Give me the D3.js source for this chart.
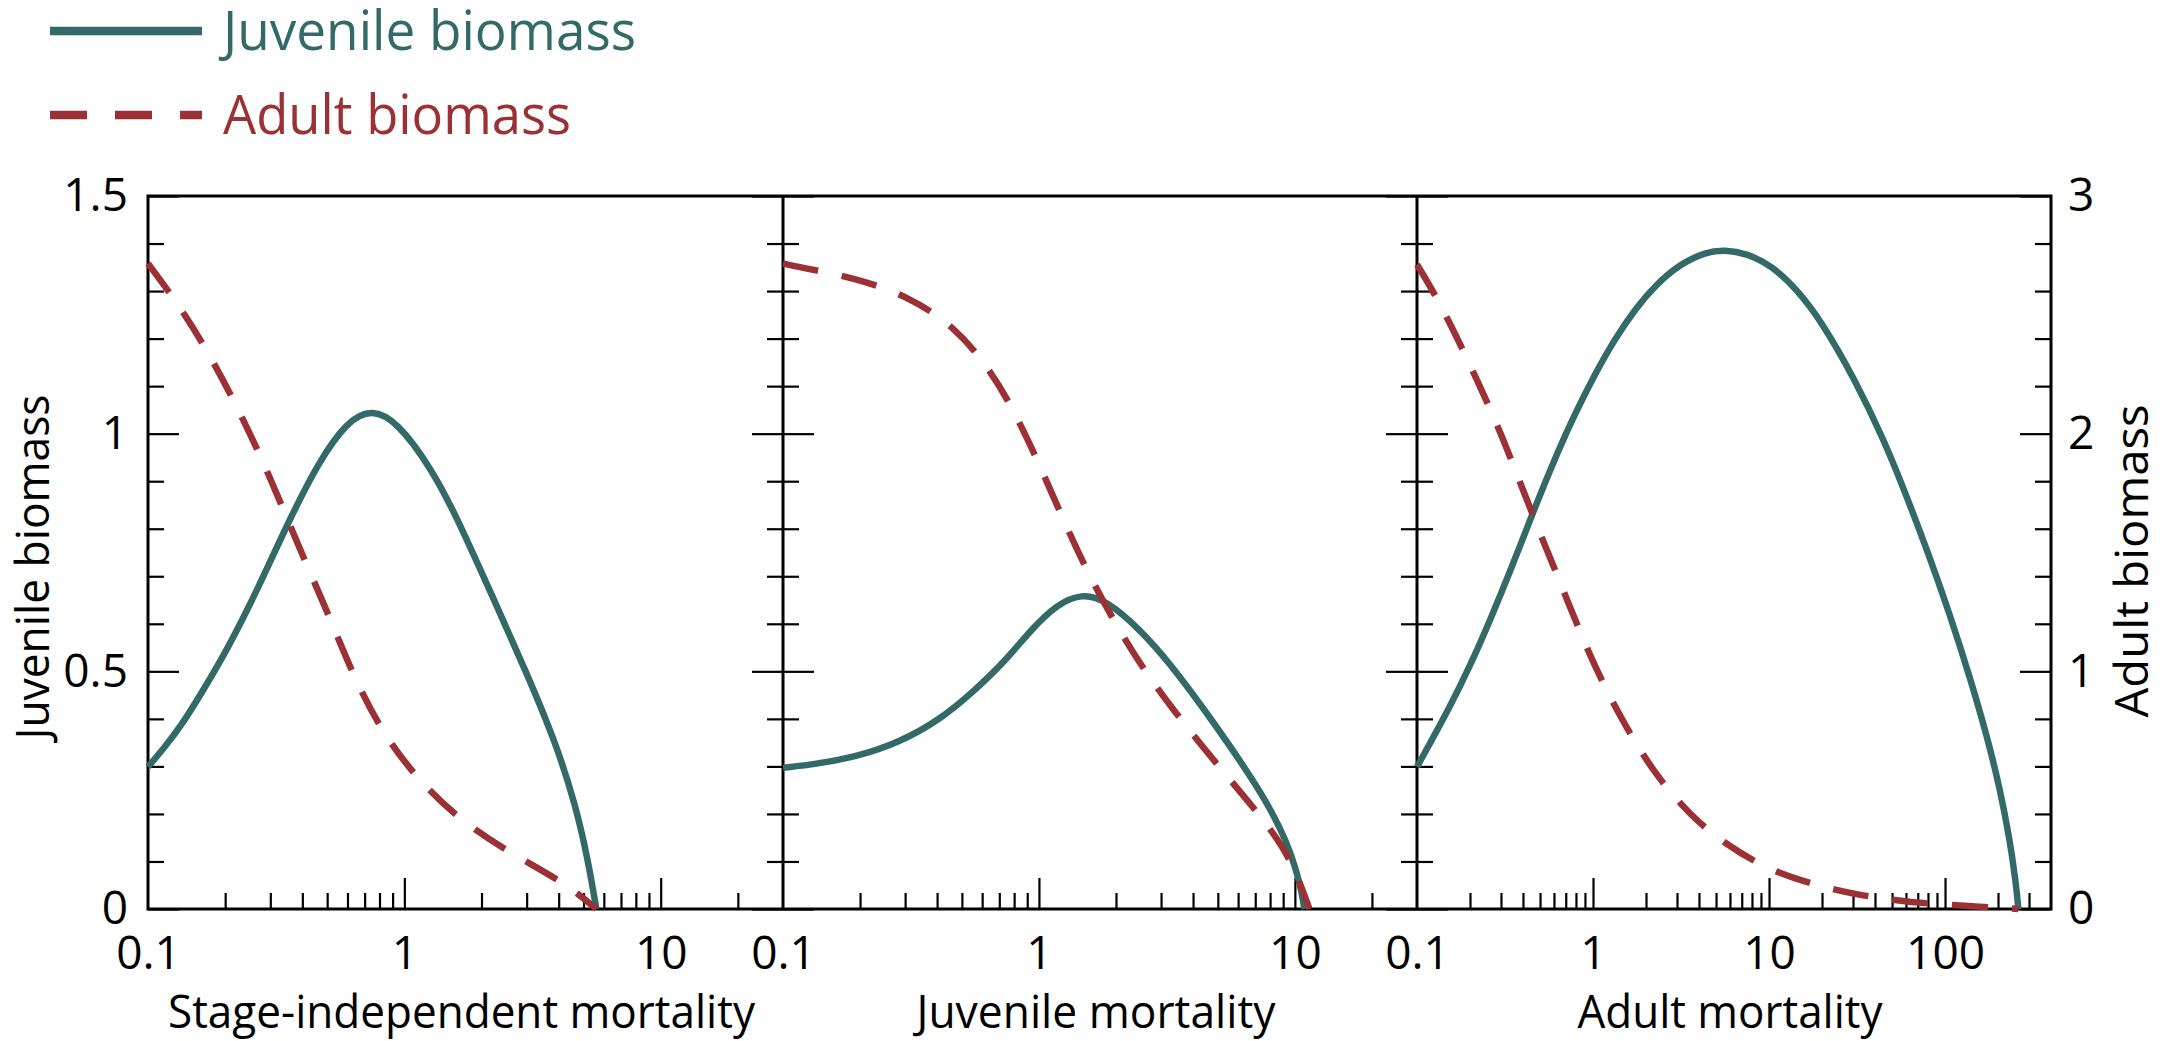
<!DOCTYPE html>
<html>
<head>
<meta charset="utf-8" />
<title>Juvenile and adult biomass vs mortality</title>
<script src="https://d3js.org/d3.v7.min.js"></script>
<style>
  body { margin: 0; background: #fff; }
  svg text { font-family: "Open Sans", sans-serif; }
</style>
</head>
<body>
<svg width="2178" height="1041"></svg>
<script>
// values: mortality (x) and biomass (y)
let xTitles = ["Stage-independent mortality", "Juvenile mortality", "Adult mortality"];
let xDomains = [[0.1, 30], [0.1, 30], [0.1, 400]];
let xLabels = [[0.1, 1, 10], [0.1, 1, 10], [0.1, 1, 10, 100]];
let juvTicks = [0, 0.5, 1, 1.5];
let adultTicks = [0, 1, 2, 3];

// stage-independent mortality
let stageJuvX = [0.1, 0.116, 0.135, 0.162, 0.196, 0.236, 0.284, 0.355, 0.461, 0.599, 0.749, 0.937, 1.263, 1.579, 2.209, 2.976, 3.864, 4.656, 5.21, 5.61];
let stageJuvY = [0.299, 0.34, 0.386, 0.455, 0.53, 0.613, 0.703, 0.817, 0.939, 1.027, 1.052, 1.025, 0.93, 0.832, 0.657, 0.501, 0.355, 0.219, 0.102, 0];
let stageAdultX = [0.1, 0.137, 0.178, 0.225, 0.281, 0.342, 0.42, 0.506, 0.638, 0.828, 1.129, 1.62, 2.536, 4.195, 5.61];
let stageAdultY = [2.716, 2.517, 2.313, 2.103, 1.884, 1.665, 1.437, 1.24, 0.97, 0.736, 0.545, 0.38, 0.24, 0.113, 0];

// juvenile mortality
let juvMortJuvX = [0.1, 0.135, 0.196, 0.284, 0.413, 0.556, 0.722, 0.937, 1.172, 1.466, 1.833, 2.47, 3.207, 4.656, 6.76, 8.15, 9.28, 10.11, 10.65, 10.89];
let juvMortJuvY = [0.297, 0.305, 0.321, 0.35, 0.399, 0.458, 0.516, 0.589, 0.64, 0.664, 0.65, 0.589, 0.521, 0.404, 0.277, 0.204, 0.141, 0.083, 0.034, 0];
let juvMortAdultX = [0.1, 0.116, 0.189, 0.306, 0.472, 0.65, 0.813, 1.009, 1.239, 1.538, 1.953, 2.536, 3.417, 4.833, 6.89, 9.11, 10.5, 11.4];
let juvMortAdultY = [2.716, 2.7, 2.657, 2.581, 2.449, 2.264, 2.081, 1.865, 1.643, 1.423, 1.215, 1.014, 0.825, 0.623, 0.428, 0.259, 0.107, 0];

// adult mortality
let adMortJuvX = [0.1, 0.153, 0.2, 0.262, 0.344, 0.45, 0.59, 0.773, 1.014, 1.328, 1.741, 2.28, 3.16, 4.37, 5.57, 7.51, 10.39, 14.37, 19.89, 30.66, 44.8, 58.7, 81.2, 106.4, 139.5, 173.2, 203.7, 233.3, 253, 261];
let adMortJuvY = [0.299, 0.423, 0.511, 0.61, 0.717, 0.829, 0.937, 1.035, 1.122, 1.199, 1.263, 1.314, 1.358, 1.382, 1.387, 1.379, 1.353, 1.304, 1.236, 1.115, 0.988, 0.881, 0.744, 0.62, 0.484, 0.363, 0.258, 0.146, 0.054, 0];
let adMortAdultX = [0.1, 0.133, 0.195, 0.278, 0.367, 0.48, 0.64, 0.839, 1.142, 1.623, 2.282, 3.654, 5.574, 10.22, 20.1, 31.84, 51.8, 84.3, 141, 261];
let adMortAdultY = [2.712, 2.56, 2.309, 2.06, 1.836, 1.612, 1.388, 1.168, 0.944, 0.736, 0.561, 0.386, 0.276, 0.158, 0.093, 0.06, 0.037, 0.021, 0.012, 0];

let juvSeries = [d3.zip(stageJuvX, stageJuvY), d3.zip(juvMortJuvX, juvMortJuvY), d3.zip(adMortJuvX, adMortJuvY)];
let adultSeries = [d3.zip(stageAdultX, stageAdultY), d3.zip(juvMortAdultX, juvMortAdultY), d3.zip(adMortAdultX, adMortAdultY)];

let teal = "#336a68";
let red = "#9b3134";
let fontSize = 46;

let svg = d3.select("svg");
let plotTop = 196, plotBottom = 909;
let edges = [148, 783, 1417, 2051];

let yJuv = d3.scaleLinear().domain([0, 1.5]).range([plotBottom, plotTop]);
let yAdult = d3.scaleLinear().domain([0, 3]).range([plotBottom, plotTop]);

let xScales = xDomains.map((dom, i) =>
  d3.scaleLog().domain(dom).range([edges[i], edges[i + 1]])
);

// minor/major decade ticks strictly inside a domain
function logTicks(dom, major) {
  let t = [];
  for (let e = -1; e <= 3; e++) {
    for (let m = 1; m <= 9; m++) {
      if ((m === 1) !== major) continue;
      let v = +(m * Math.pow(10, e)).toPrecision(3);
      if (v > dom[0] * 1.0001 && v < dom[1] * 0.9999) t.push(v);
    }
  }
  return t;
}

let minorJuv = d3.range(1, 15).map((d) => d / 10).filter((d) => juvTicks.indexOf(d) < 0);

function styleAxis(g) {
  g.select(".domain").remove();
  g.selectAll("line").attr("stroke", "#000").attr("stroke-width", 2.2);
  g.attr("font-family", '"Open Sans", sans-serif').attr("font-size", fontSize);
  g.selectAll("text").attr("fill", "#000");
}

// x axes: ticks point up into the plot
xScales.forEach((x, i) => {
  svg.append("g")
    .attr("transform", `translate(0,${plotBottom})`)
    .call(d3.axisBottom(x).tickValues(logTicks(xDomains[i], false)).tickSize(-16).tickFormat(""))
    .call(styleAxis);
  svg.append("g")
    .attr("transform", `translate(0,${plotBottom})`)
    .call(d3.axisBottom(x).tickValues(logTicks(xDomains[i], true)).tickSize(-31).tickFormat(""))
    .call(styleAxis);
  svg.append("g")
    .attr("transform", `translate(0,${plotBottom})`)
    .call(d3.axisBottom(x).tickValues(xLabels[i]).tickSize(0).tickPadding(27).tickFormat(d3.format("~g")))
    .call(styleAxis);

  svg.append("text")
    .attr("x", (edges[i] + edges[i + 1]) / 2 - 4)
    .attr("y", 1028)
    .attr("text-anchor", "middle")
    .attr("font-size", fontSize)
    .attr("textLength", [587, 359, 305][i])
    .attr("lengthAdjust", "spacingAndGlyphs")
    .text(xTitles[i]);
});

// y ticks on every vertical line (inward on outer edges, both sides inside)
edges.forEach((ex, i) => {
  let sides = [];
  if (i < edges.length - 1) sides.push(d3.axisRight);
  if (i > 0) sides.push(d3.axisLeft);
  sides.forEach((ax) => {
    svg.append("g")
      .attr("transform", `translate(${ex},0)`)
      .call(ax(yJuv).tickValues(minorJuv).tickSize(16).tickFormat(""))
      .call(styleAxis);
    svg.append("g")
      .attr("transform", `translate(${ex},0)`)
      .call(ax(yJuv).tickValues(juvTicks).tickSize(31).tickFormat(""))
      .call(styleAxis);
  });
});

// y labels
svg.append("g")
  .attr("transform", `translate(${edges[0]},0)`)
  .call(d3.axisLeft(yJuv).tickValues(juvTicks).tickSize(0).tickPadding(20).tickFormat(d3.format("~g")))
  .call(styleAxis);
svg.append("g")
  .attr("transform", `translate(${edges[3]},0)`)
  .call(d3.axisRight(yAdult).tickValues(adultTicks).tickSize(0).tickPadding(17).tickFormat(d3.format("~g")))
  .call(styleAxis);

svg.append("text")
  .attr("transform", "translate(49,567) rotate(-90)")
  .attr("text-anchor", "middle")
  .attr("font-size", fontSize)
  .attr("textLength", 345)
  .attr("lengthAdjust", "spacingAndGlyphs")
  .text("Juvenile biomass");
svg.append("text")
  .attr("transform", "translate(2148,561) rotate(-90)")
  .attr("text-anchor", "middle")
  .attr("font-size", fontSize)
  .attr("textLength", 313)
  .attr("lengthAdjust", "spacingAndGlyphs")
  .text("Adult biomass");

// frame
svg.append("rect")
  .attr("x", edges[0])
  .attr("y", plotTop)
  .attr("width", edges[3] - edges[0])
  .attr("height", plotBottom - plotTop)
  .attr("fill", "none")
  .attr("stroke", "#000")
  .attr("stroke-width", 3);
svg.selectAll(".divider")
  .data(edges.slice(1, 3))
  .join("line")
  .attr("class", "divider")
  .attr("x1", (d) => d)
  .attr("x2", (d) => d)
  .attr("y1", plotTop)
  .attr("y2", plotBottom)
  .attr("stroke", "#000")
  .attr("stroke-width", 3);

// curves (b-spline through the read points keeps them smooth)
xScales.forEach((x, i) => {
  let lineJ = d3.line().x((d) => x(d[0])).y((d) => yJuv(d[1])).curve(d3.curveBasis);
  let lineA = d3.line().x((d) => x(d[0])).y((d) => yAdult(d[1])).curve(d3.curveBasis);
  svg.append("path")
    .datum(juvSeries[i])
    .attr("d", lineJ)
    .attr("fill", "none")
    .attr("stroke", teal)
    .attr("stroke-width", 6.5);
  svg.append("path")
    .datum(adultSeries[i])
    .attr("d", lineA)
    .attr("fill", "none")
    .attr("stroke", red)
    .attr("stroke-width", 6.5)
    .attr("stroke-dasharray", "36,24");
});

// legend
let legend = [
  { name: "Juvenile biomass", color: teal, dash: null, y: 31, width: 413 },
  { name: "Adult biomass", color: red, dash: "37,28", y: 115, width: 348 },
];
legend.forEach((d) => {
  svg.append("line")
    .attr("x1", 50)
    .attr("x2", 202)
    .attr("y1", d.y)
    .attr("y2", d.y)
    .attr("stroke", d.color)
    .attr("stroke-width", 8.5)
    .attr("stroke-dasharray", d.dash);
  svg.append("text")
    .attr("x", 223)
    .attr("y", d.y + 19)
    .attr("font-size", 54)
    .attr("fill", d.color)
    .attr("textLength", d.width)
    .attr("lengthAdjust", "spacingAndGlyphs")
    .text(d.name);
});
</script>
</body>
</html>
